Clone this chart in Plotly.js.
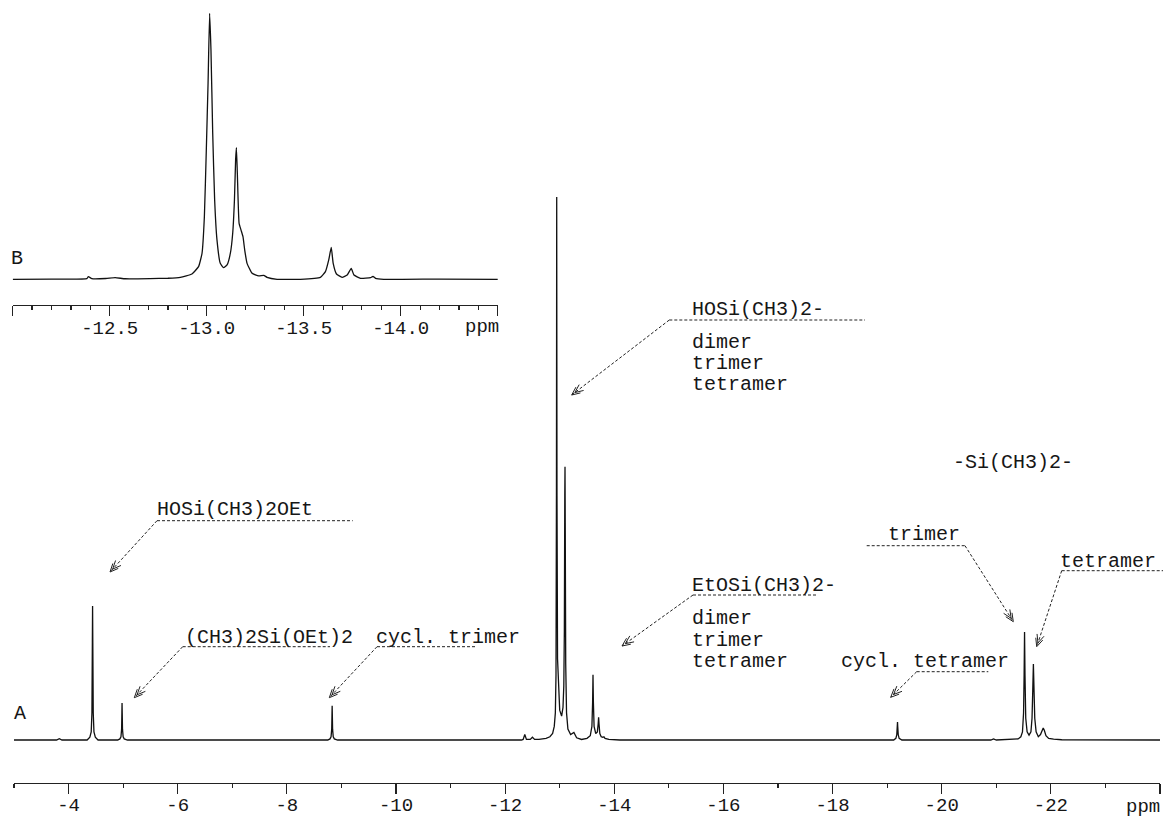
<!DOCTYPE html>
<html>
<head>
<meta charset="utf-8">
<script src="https://cdn.plot.ly/plotly-3.0.1.min.js"></script>
<style>
  html, body { margin: 0; padding: 0; background: #fff; }
  #chart { width: 1163px; height: 818px; }
</style>
</head>
<body>
<div id="chart"></div>
<script>
// 29Si NMR spectrum: full range (A) and expanded region around -13 ppm (B)

// ---- spectrum A: chemical shift (ppm) and relative intensity ----
const mainPpm = [
  -3.00, -3.78, -3.83, -3.88,
  -4.34, -4.39, -4.415, -4.428, -4.436, -4.44, -4.444, -4.452, -4.465, -4.49, -4.54,
  -4.90, -4.94, -4.96, -4.972, -4.977, -4.98, -4.983, -4.988, -5.00, -5.02, -5.08,
  -8.75, -8.79, -8.81, -8.822, -8.827, -8.83, -8.833, -8.838, -8.85, -8.87, -8.93,
  -12.30, -12.33, -12.36, -12.39, -12.46, -12.50, -12.54, -12.62, -12.75, -12.82, -12.87, -12.90,
  -12.92, -12.932, -12.94, -12.945, -12.95, -12.96, -12.98, -13.00, -13.035, -13.06, -13.075,
  -13.085, -13.093, -13.097, -13.101, -13.11, -13.125, -13.15, -13.20, -13.26, -13.31, -13.40,
  -13.50, -13.56, -13.59, -13.603, -13.61, -13.617, -13.63, -13.66, -13.69, -13.705, -13.713,
  -13.72, -13.735, -13.76, -13.79, -13.81, -13.83, -13.90, -14.10,
  -19.12, -19.16, -19.177, -19.186, -19.19, -19.194, -19.203, -19.22, -19.27,
  -20.90, -20.95, -21.00,
  -21.40, -21.45, -21.48, -21.50, -21.51, -21.518, -21.526, -21.54, -21.565, -21.60, -21.635,
  -21.655, -21.668, -21.68, -21.692, -21.705, -21.73, -21.77, -21.81, -21.84, -21.86, -21.88,
  -21.91, -21.96, -22.05, -22.20, -24.00
];
const mainInt = [
  0, 0, 0.25, 0,
  0, 0.5, 1.5, 5, 18, 24.7, 18, 5, 1.5, 0.5, 0,
  0, 0.2, 0.6, 2, 5, 6.8, 5, 2, 0.6, 0.2, 0,
  0, 0.2, 0.6, 2, 4.7, 6.3, 4.7, 2, 0.6, 0.2, 0,
  0, 0.1, 1.0, 0.1, 0.1, 0.5, 0.1, 0.1, 0.3, 0.6, 1.2, 2.5,
  5, 12, 45, 100, 45, 15, 8, 5.5, 4.4, 6, 10,
  20, 45, 50.3, 40, 14, 5, 2, 1, 1.4, 0.4, 0.1,
  0.3, 0.8, 2.5, 7, 12.0, 7, 2.5, 1.2, 1.5, 3, 4.2,
  3, 1.2, 0.6, 0.5, 0.6, 0.3, 0.1, 0,
  0, 0.3, 1.0, 2.5, 3.3, 2.5, 1.0, 0.3, 0,
  0, 0.2, 0,
  0.2, 0.6, 1.5, 5, 12, 19.9, 12, 4, 1.5, 0.9, 1.5,
  4, 9, 14.0, 9, 4, 1.5, 0.6, 1.0, 1.9, 2.2, 1.8,
  0.8, 0.3, 0.15, 0.05, 0
];

// ---- spectrum B: expanded -12.0 ... -14.5 ppm ----
const insetPpm = [
  -12.000, -12.200, -12.382, -12.390, -12.408, -12.480, -12.528, -12.580, -12.709, -12.800,
  -12.864, -12.924, -12.958, -12.976, -12.988, -12.998, -13.007, -13.015, -13.022, -13.031,
  -13.041, -13.053, -13.070, -13.087, -13.105, -13.122, -13.134, -13.143, -13.149, -13.153,
  -13.158, -13.167, -13.177, -13.187, -13.196, -13.208, -13.234, -13.268, -13.294, -13.311,
  -13.363, -13.483, -13.586, -13.612, -13.629, -13.642, -13.652, -13.669, -13.698, -13.724,
  -13.745, -13.759, -13.793, -13.845, -13.857, -13.870, -13.913, -14.200, -14.504
];
const insetInt = [
  0, 0.1, 0.25, 1.0, 0.25, 0.3, 0.62, 0.2, 0.25, 0.4,
  0.74, 2.0, 4.75, 9.8, 23.5, 48.6, 73.7, 100, 86.2, 54.9,
  29.8, 14.8, 6.0, 4.4, 5.4, 9.8, 17.3, 29.8, 44.9, 49.5,
  39.8, 21.0, 18.5, 16.0, 11.0, 6.0, 2.25, 1.25, 1.5, 0.74,
  0, 0, 0.74, 2.9, 7.3, 12.0, 6.0, 2.0, 0.74, 1.6,
  4.1, 1.6, 0.37, 0.62, 1.1, 0.37, 0, 0.1, 0
];

// ---- axis ticks ----
const mainTickVals = [-4, -6, -8, -10, -12, -14, -16, -18, -20, -22, -24];
const mainTickText = ['-4', '-6', '-8', '-10', '-12', '-14', '-16', '-18', '-20', '-22', ''];
const mainMinorVals = [-3, -5, -7, -9, -11, -13, -15, -17, -19, -21, -23];
const insetTickVals = [-12.0, -12.5, -13.0, -13.5, -14.0, -14.5];
const insetTickText = ['', '-12.5', '-13.0', '-13.5', '-14.0', ''];
const insetMinorVals = [-12.1, -12.2, -12.3, -12.4, -12.6, -12.7, -12.8, -12.9, -13.1, -13.2,
  -13.3, -13.4, -13.6, -13.7, -13.8, -13.9, -14.1, -14.2, -14.3, -14.4];

// ---- peak assignment labels ----
const labelTexts = {
  hosiOEt: 'HOSi(CH3)2OEt',
  diEt: '(CH3)2Si(OEt)2',
  cyclTri: 'cycl. trimer',
  hosi: 'HOSi(CH3)2-',
  etosi: 'EtOSi(CH3)2-',
  oligo: ['dimer', 'trimer', 'tetramer'],
  siMe2: '-Si(CH3)2-',
  tri: 'trimer',
  tetra: 'tetramer',
  cyclTetra: 'cycl. tetramer'
};

// ---------------------------------------------------------------
const W = 1163, H = 818, BOT = 783;           // plot area spans y = 0 .. 783 px
const FONT = 'Liberation Mono, DejaVu Sans Mono, monospace';
const INK = '#161616';
const px = (x) => x / W;
const py = (y) => (BOT - y) / BOT;

function label(text, x, y, anchor, size) {
  return {
    xref: 'paper', yref: 'paper', x: px(x), y: py(y),
    xanchor: anchor || 'left', yanchor: 'middle',
    text: text, showarrow: false, borderpad: 0,
    font: { family: FONT, size: size || 20, color: INK }
  };
}

const annotations = [
  label(labelTexts.hosiOEt, 156, 510),
  label(labelTexts.diEt, 184, 637),
  label(labelTexts.cyclTri, 375, 637),
  label(labelTexts.hosi, 691, 309),
  label(labelTexts.oligo[0], 691, 342),
  label(labelTexts.oligo[1], 691, 363),
  label(labelTexts.oligo[2], 691, 384),
  label(labelTexts.etosi, 691, 585),
  label(labelTexts.oligo[0], 691, 618),
  label(labelTexts.oligo[1], 691, 640),
  label(labelTexts.oligo[2], 691, 661),
  label(labelTexts.siMe2, 952, 462),
  label(labelTexts.tri, 887, 535),
  label(labelTexts.tetra, 1059, 561),
  label(labelTexts.cyclTetra, 840, 661),
  label('A', 20, 713, 'center'),
  label('B', 17, 258, 'center'),
  label('ppm', 1161, 807, 'right', 19),
  label('ppm', 482, 327, 'center', 19)
];

// dashed underline + leader with a double open arrowhead
const leaders = [
  { u0: 157, u1: 352.7, uy: 520.7, from: [157, 520.7], tip: [110, 572] },
  { u0: 182.7, u1: 330, uy: 646.7, from: [182.7, 646.7], tip: [134.3, 697.7] },
  { u0: 377, u1: 476.5, uy: 646.7, from: [377, 646.7], tip: [329.3, 697.7] },
  { u0: 669.3, u1: 865, uy: 320, from: [669.3, 320], tip: [571.7, 395] },
  { u0: 693, u1: 817, uy: 595, from: [693, 595], tip: [622, 646] },
  { u0: 866.7, u1: 965, uy: 545.7, from: [965, 545.7], tip: [1013.3, 621.7] },
  { u0: 1061.7, u1: 1163, uy: 570.7, from: [1061.7, 570.7], tip: [1036.7, 646.7] },
  { u0: 916.7, u1: 988.3, uy: 671.7, from: [916.7, 671.7], tip: [890.7, 697.3] }
];

const DASH = { color: '#222', width: 1, dash: '3px,2px' };
const shapes = [];
function chevronPath(tip, from, back) {
  const dx = from[0] - tip[0], dy = from[1] - tip[1];
  const L = Math.hypot(dx, dy), ux = dx / L, uy = dy / L;
  const bx = tip[0] + ux * back, by = tip[1] + uy * back;
  const len = 9, a = 0.42, c = Math.cos(a), s = Math.sin(a);
  const r1 = [ux * c - uy * s, ux * s + uy * c];
  const r2 = [ux * c + uy * s, -ux * s + uy * c];
  const p1 = [bx + r1[0] * len, by + r1[1] * len];
  const p2 = [bx + r2[0] * len, by + r2[1] * len];
  return 'M' + px(p1[0]) + ',' + py(p1[1]) + ' L' + px(bx) + ',' + py(by) +
         ' L' + px(p2[0]) + ',' + py(p2[1]);
}
leaders.forEach(function (d) {
  shapes.push({ type: 'line', xref: 'paper', yref: 'paper',
    x0: px(d.u0), x1: px(d.u1), y0: py(d.uy), y1: py(d.uy), line: DASH });
  shapes.push({ type: 'line', xref: 'paper', yref: 'paper',
    x0: px(d.from[0]), y0: py(d.from[1]), x1: px(d.tip[0]), y1: py(d.tip[1]), line: DASH });
  [0, 4].forEach(function (b) {
    shapes.push({ type: 'path', xref: 'paper', yref: 'paper',
      path: chevronPath(d.tip, d.from, b), line: { color: '#222', width: 1 } });
  });
});

const axisCommon = {
  showline: true, linecolor: '#222', linewidth: 1.2,
  ticks: 'outside', ticklen: 10, tickwidth: 1.2, tickcolor: '#222',
  showgrid: false, zeroline: false, tickmode: 'array',
  tickfont: { family: FONT, size: 19, color: INK }
};

const traces = [
  { x: mainPpm, y: mainInt, xaxis: 'x', yaxis: 'y', type: 'scatter', mode: 'lines',
    line: { color: '#111', width: 1.3 }, hoverinfo: 'skip' },
  { x: insetPpm, y: insetInt, xaxis: 'x2', yaxis: 'y2', type: 'scatter', mode: 'lines',
    line: { color: '#111', width: 1.3, shape: 'spline', smoothing: 0.4 }, hoverinfo: 'skip' }
];

const layout = {
  width: W, height: H,
  margin: { l: 0, r: 0, t: 0, b: H - BOT, pad: 0 },
  paper_bgcolor: '#fff', plot_bgcolor: 'rgba(0,0,0,0)',
  showlegend: false,
  xaxis: Object.assign({}, axisCommon, {
    domain: [14 / W, 1160 / W], range: [-3, -24], anchor: 'y',
    tickvals: mainTickVals, ticktext: mainTickText, ticklabelstandoff: -6,
    minor: { tickmode: 'array', tickvals: mainMinorVals, ticks: 'outside',
             ticklen: 4, tickwidth: 1.2, tickcolor: '#222' }
  }),
  yaxis: { domain: [0, 1], range: [-7.919, 136.28], visible: false, fixedrange: true },
  xaxis2: Object.assign({}, axisCommon, {
    domain: [12.7 / W, 497.7 / W], range: [-12.0, -14.5], anchor: 'y2',
    tickvals: insetTickVals, ticktext: insetTickText, ticklabelstandoff: -5,
    minor: { tickmode: 'array', tickvals: insetMinorVals, ticks: 'outside',
             ticklen: 4, tickwidth: 1.2, tickcolor: '#222' }
  }),
  yaxis2: { domain: [(BOT - 305) / BOT, 1], range: [-9.662, 105.0], visible: false,
            anchor: 'x2', fixedrange: true },
  annotations: annotations,
  shapes: shapes
};

Plotly.newPlot('chart', traces, layout, { staticPlot: true, displayModeBar: false });
</script>
</body>
</html>
